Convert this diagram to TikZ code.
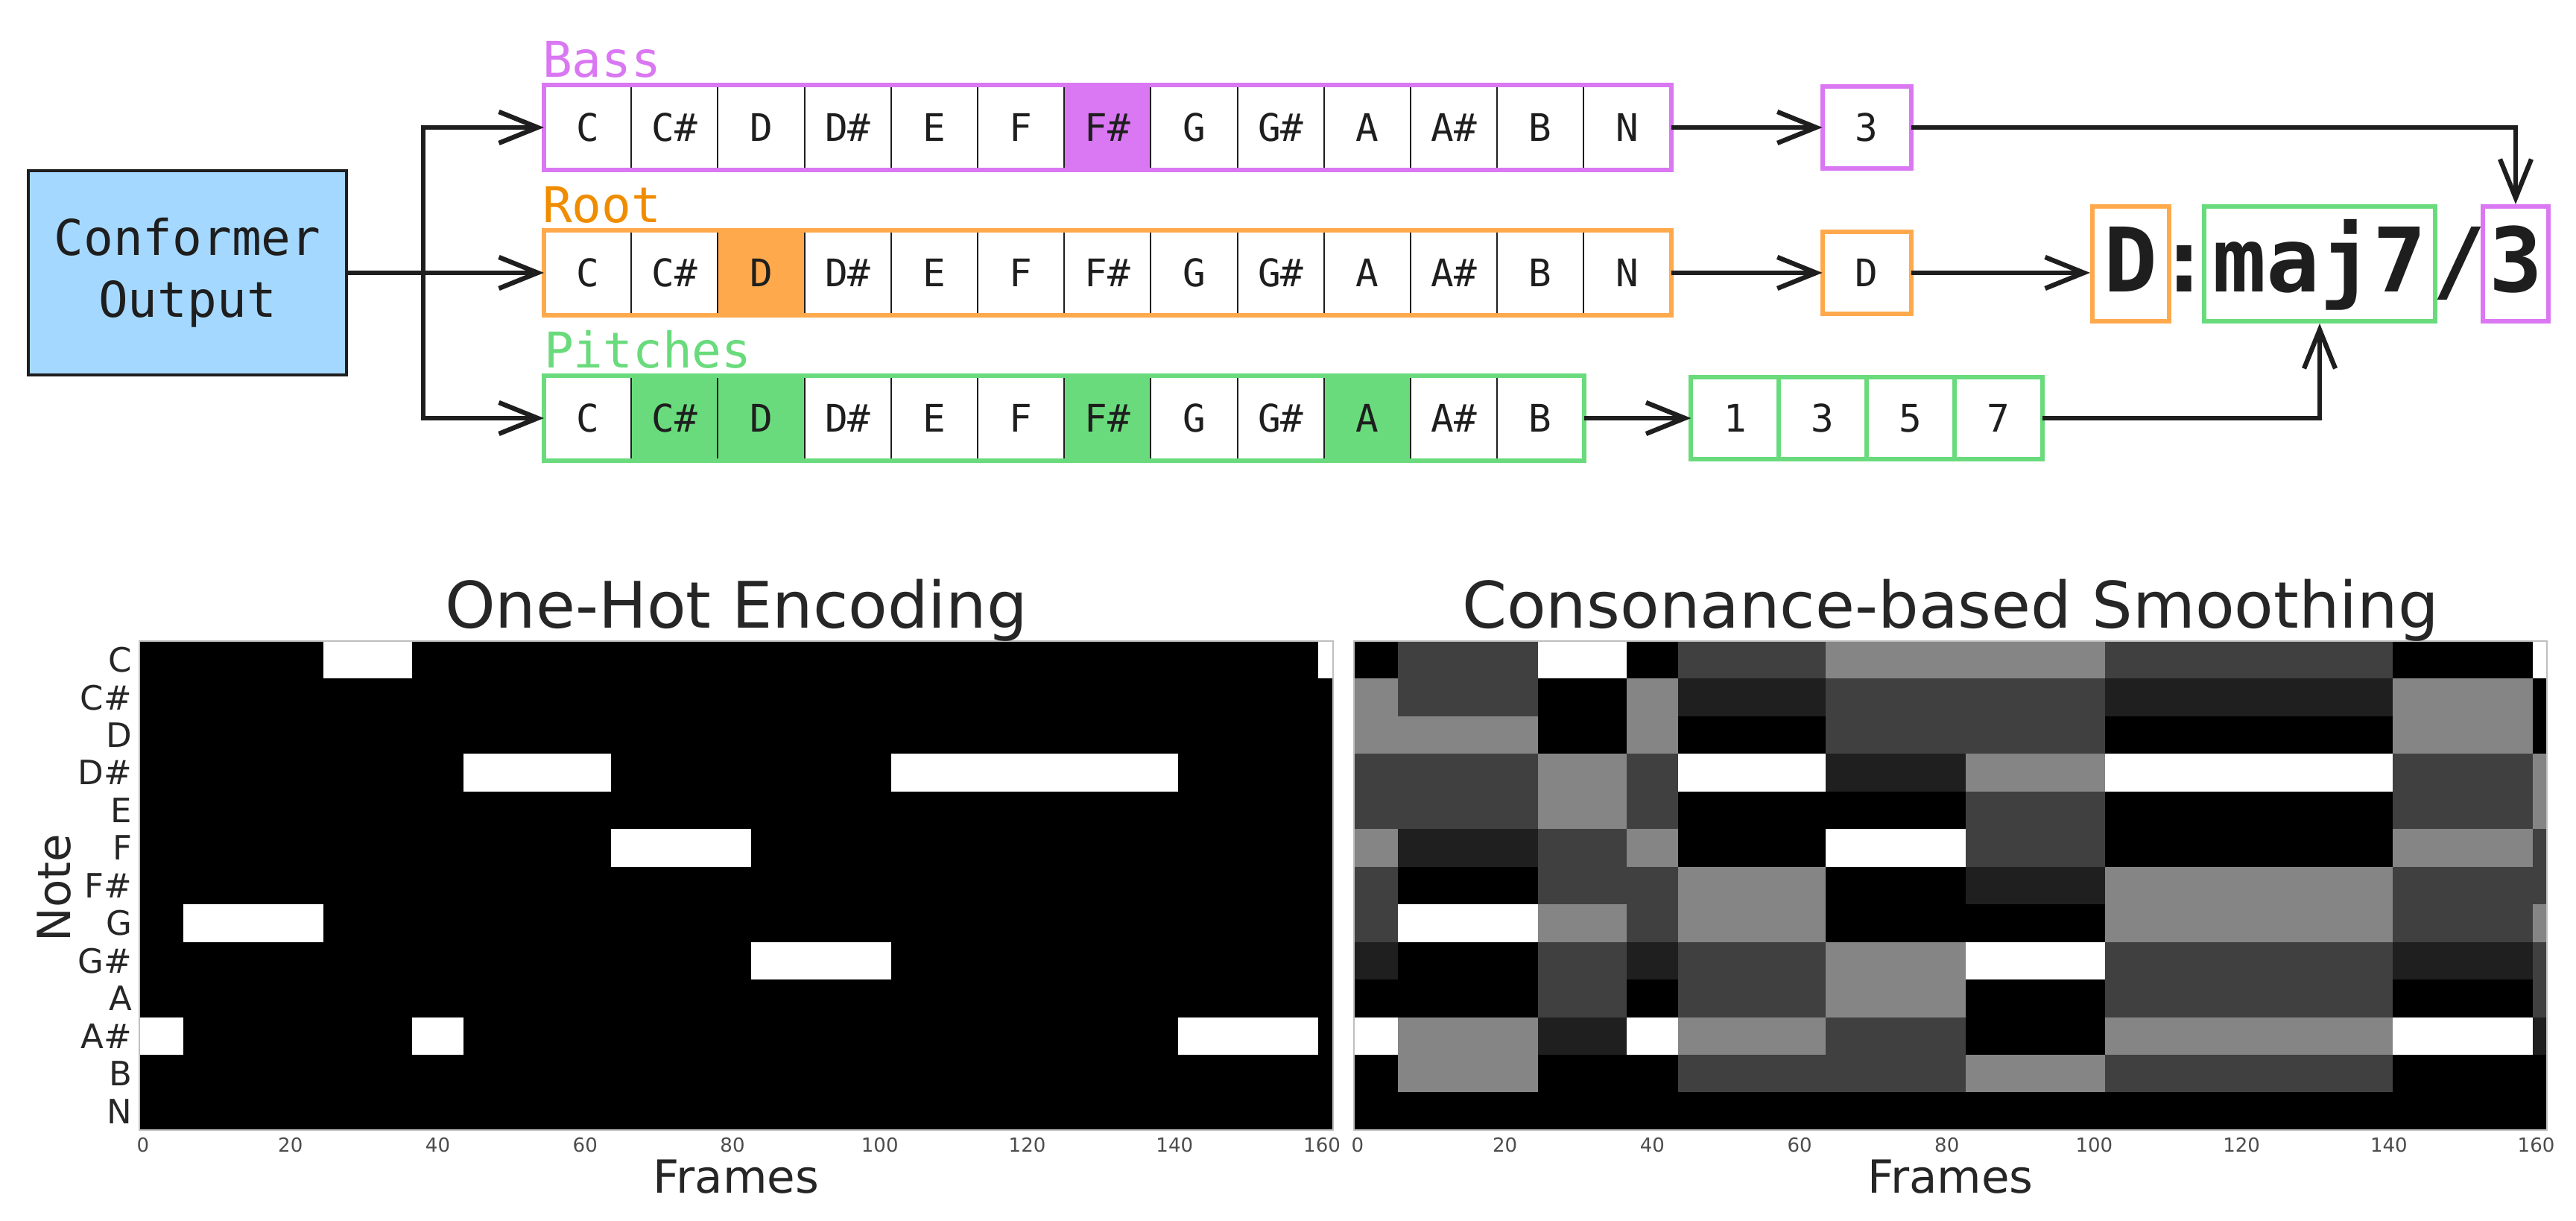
\documentclass[tikz,border=0pt]{standalone}
\usepackage{fontspec}
\setmainfont{DejaVu Sans}
\newfontfamily\codefont{DejaVu Sans Mono}
\usetikzlibrary{arrows.meta,positioning,fit}

\definecolor{bassc}{HTML}{DA77F2}
\definecolor{rootc}{HTML}{FFA94D}
\definecolor{rootlab}{HTML}{F08C00}
\definecolor{pitchc}{HTML}{69DB7C}
\definecolor{confc}{HTML}{A5D8FF}
\definecolor{ink}{HTML}{1E1E1E}

% start/end frame and root pitch class of each chord segment
\newcommand\chordsegs{-0.5/5.5/10,5.5/24.5/7,24.5/36.5/0,36.5/43.5/10,43.5/63.5/3,63.5/82.5/5,82.5/101.5/8,101.5/140.5/3,140.5/159.5/10,159.5/161.5/0}

\tikzset{
  cell/.style={draw=ink, line width=0.6pt, minimum width=1.162cm, minimum height=1.12cm,
    inner sep=0pt, text=ink, font=\codefont\fontsize{14.5}{16}\selectfont},
  rowbox/.style={draw=#1, line width=1.7pt, inner sep=0pt},
  rowlabel/.style={anchor=base west, text=#1, inner sep=0pt,
    font=\codefont\fontsize{18.8}{22}\selectfont},
  result/.style={draw=#1, line width=1.7pt, minimum width=1.19cm, minimum height=1.1cm,
    inner sep=0pt, outer sep=0pt, text=ink, font=\codefont\fontsize{14.5}{16}\selectfont},
  chord/.style={text=ink, inner xsep=0pt, inner ysep=0pt, line width=1.7pt,
    text height=1.15cm, text depth=0.39cm, font=\codefont\bfseries\fontsize{34}{40}\selectfont},
  flow/.style={->, line width=1.8pt, draw=ink},
  ticklab/.style={text=black!70, inner sep=0pt, font=\fontsize{7.4}{8}\selectfont},
  notelabel/.style={anchor=east, text=black!85, inner sep=0pt, font=\fontsize{12.8}{14}\selectfont},
  axlabel/.style={anchor=base, text=black!85, inner sep=0pt, font=\fontsize{17.4}{20}\selectfont},
  maptitle/.style={anchor=base, text=black!85, inner sep=0pt, font=\fontsize{24.5}{28}\selectfont}
}

\begin{document}
\begin{tikzpicture}[>={Straight Barb[length=5.2mm,width=4.2mm]},
            node distance=1.162cm,
            semithick]

  \useasboundingbox (0,0) rectangle (34.57,16.38);

  \node[draw=ink, line width=1pt, fill=confc, minimum width=4.27cm, minimum height=2.74cm,
        align=center, text=ink, font=\codefont\fontsize{18.8}{23.6}\selectfont]
        (conf) at (2.515,12.72) {Conformer\\Output};

  % bass row
  \coordinate (b0) at (6.729,14.67);
  \foreach \n/\fc [count=\i, remember=\i as \j (initially 0)] in
      {C/white,C\#/white,D/white,D\#/white,E/white,F/white,F\#/bassc,G/white,G\#/white,A/white,A\#/white,B/white,N/white}
    \node[cell, fill=\fc] (b\i) [right of=b\j] {\n};
  \node[rowbox=bassc, fit=(b1)(b13)] (bass) {};
  \node[rowlabel=bassc] (basslab) at ([yshift=0.07cm]bass.north west) {Bass};

  % root row
  \coordinate (r0) at (6.729,12.72);
  \foreach \n/\fc [count=\i, remember=\i as \j (initially 0)] in
      {C/white,C\#/white,D/rootc,D\#/white,E/white,F/white,F\#/white,G/white,G\#/white,A/white,A\#/white,B/white,N/white}
    \node[cell, fill=\fc] (r\i) [right of=r\j] {\n};
  \node[rowbox=rootc, fit=(r1)(r13)] (root) {};
  \node[rowlabel=rootlab] (rootlab) at ([yshift=0.07cm]root.north west) {Root};

  % pitch row
  \coordinate (p0) at (6.729,10.77);
  \foreach \n/\fc [count=\i, remember=\i as \j (initially 0)] in
      {C/white,C\#/pitchc,D/pitchc,D\#/white,E/white,F/white,F\#/pitchc,G/white,G\#/white,A/pitchc,A\#/white,B/white}
    \node[cell, fill=\fc] (p\i) [right of=p\j] {\n};
  \node[rowbox=pitchc, fit=(p1)(p12)] (pitch) {};
  \node[rowlabel=pitchc] (pitchlab) at ([shift={(0.02,0.07)}]pitch.north west) {Pitches};

  % decoded parts
  \node[result=bassc] (bres) [right=2.03cm of b13] {3};
  \node[result=rootc] (rres) [right=2.03cm of r13] {D};
  \node[result=pitchc, minimum width=1.178cm] (q1) [right=1.43cm of p12] {1};
  \foreach \n [count=\i from 2, remember=\i as \j (initially 1)] in {3,5,7}
    \node[result=pitchc, minimum width=1.178cm] (q\i) [right=0pt of q\j] {\n};

  % chord label
  \node[chord, draw=rootc, minimum width=1.03cm] (cd) at (28.595,12.84) {D};
  \node[chord] (colon) at (29.31,12.84) {:};
  \node[chord, draw=pitchc, minimum width=3.10cm] (cq) at (31.13,12.84) {maj7};
  \node[chord] (slash) at (33.0,12.84) {/};
  \node[chord, draw=bassc, minimum width=0.88cm] (cb) at (33.76,12.84) {3};

  \coordinate[right=1.01cm of conf.east] (split);
  \draw[flow] (conf.east) -- (r1.west);
  \draw[flow] (split) |- (b1.west);
  \draw[flow] (split) |- (p1.west);
  \draw[flow] (b13.east) -- (bres.west);
  \draw[flow] (r13.east) -- (rres.west);
  \draw[flow] (p12.east) -- (q1.west);
  \draw[flow] (bres.east) -| (cb.north);
  \draw[flow] (rres.east) -- (rres.east -| cd.west);
  \draw[flow] (q4.east) -| (cq.south);

  % one-hot targets
  \begin{scope}[shift={(1.92,7.78)}, x=0.098875cm, y=-0.5046cm]
    \fill[black] (-0.5,0) rectangle (161.5,13);
    \foreach \a/\b/\r in \chordsegs
      \fill[white] (\a,\r) rectangle (\b,\r+1);
    \draw[black!25, line width=0.6pt] (-0.5,0) rectangle (161.5,13);
    \foreach \t in {0,20,...,160}
      \node[ticklab] (lt\t) at (\t,13.4) {\t};
    \foreach \n [count=\i from 0] in {C,C\#,D,D\#,E,F,F\#,G,G\#,A,A\#,B,N}
      \node[notelabel] (ln\i) at (-1.4,\i+0.5) {\n};
  \end{scope}
  \node[maptitle] (t1) at (9.88,7.95) {One-Hot Encoding};
  \node[axlabel] (fr1) at (9.88,0.37) {Frames};
  \node[axlabel, rotate=90] (note) at (0.95,4.47) {Note};

  % smoothed targets
  \begin{scope}[shift={(18.22,7.78)}, x=0.09885cm, y=-0.5046cm]
    \fill[black] (-0.5,0) rectangle (161.5,13);
    \foreach \a/\b/\r in \chordsegs
      \foreach \p in {0,...,11}{
        \pgfmathtruncatemacro\iv{mod(\p-\r+12,12)}
        \pgfmathtruncatemacro\gv{{100,0,0,52,52,25,25,52,25,25,12,0}[\iv]}
        \fill[white!\gv!black] (\a,\p) rectangle (\b,\p+1);
      }
    \draw[black!25, line width=0.6pt] (-0.5,0) rectangle (161.5,13);
    \foreach \t in {0,20,...,160}
      \node[ticklab] (rt\t) at (\t,13.4) {\t};
  \end{scope}
  \node[maptitle] (t2) at (26.175,7.95) {Consonance-based Smoothing};
  \node[axlabel] (fr2) at (26.175,0.37) {Frames};

\end{tikzpicture}
\end{document}
